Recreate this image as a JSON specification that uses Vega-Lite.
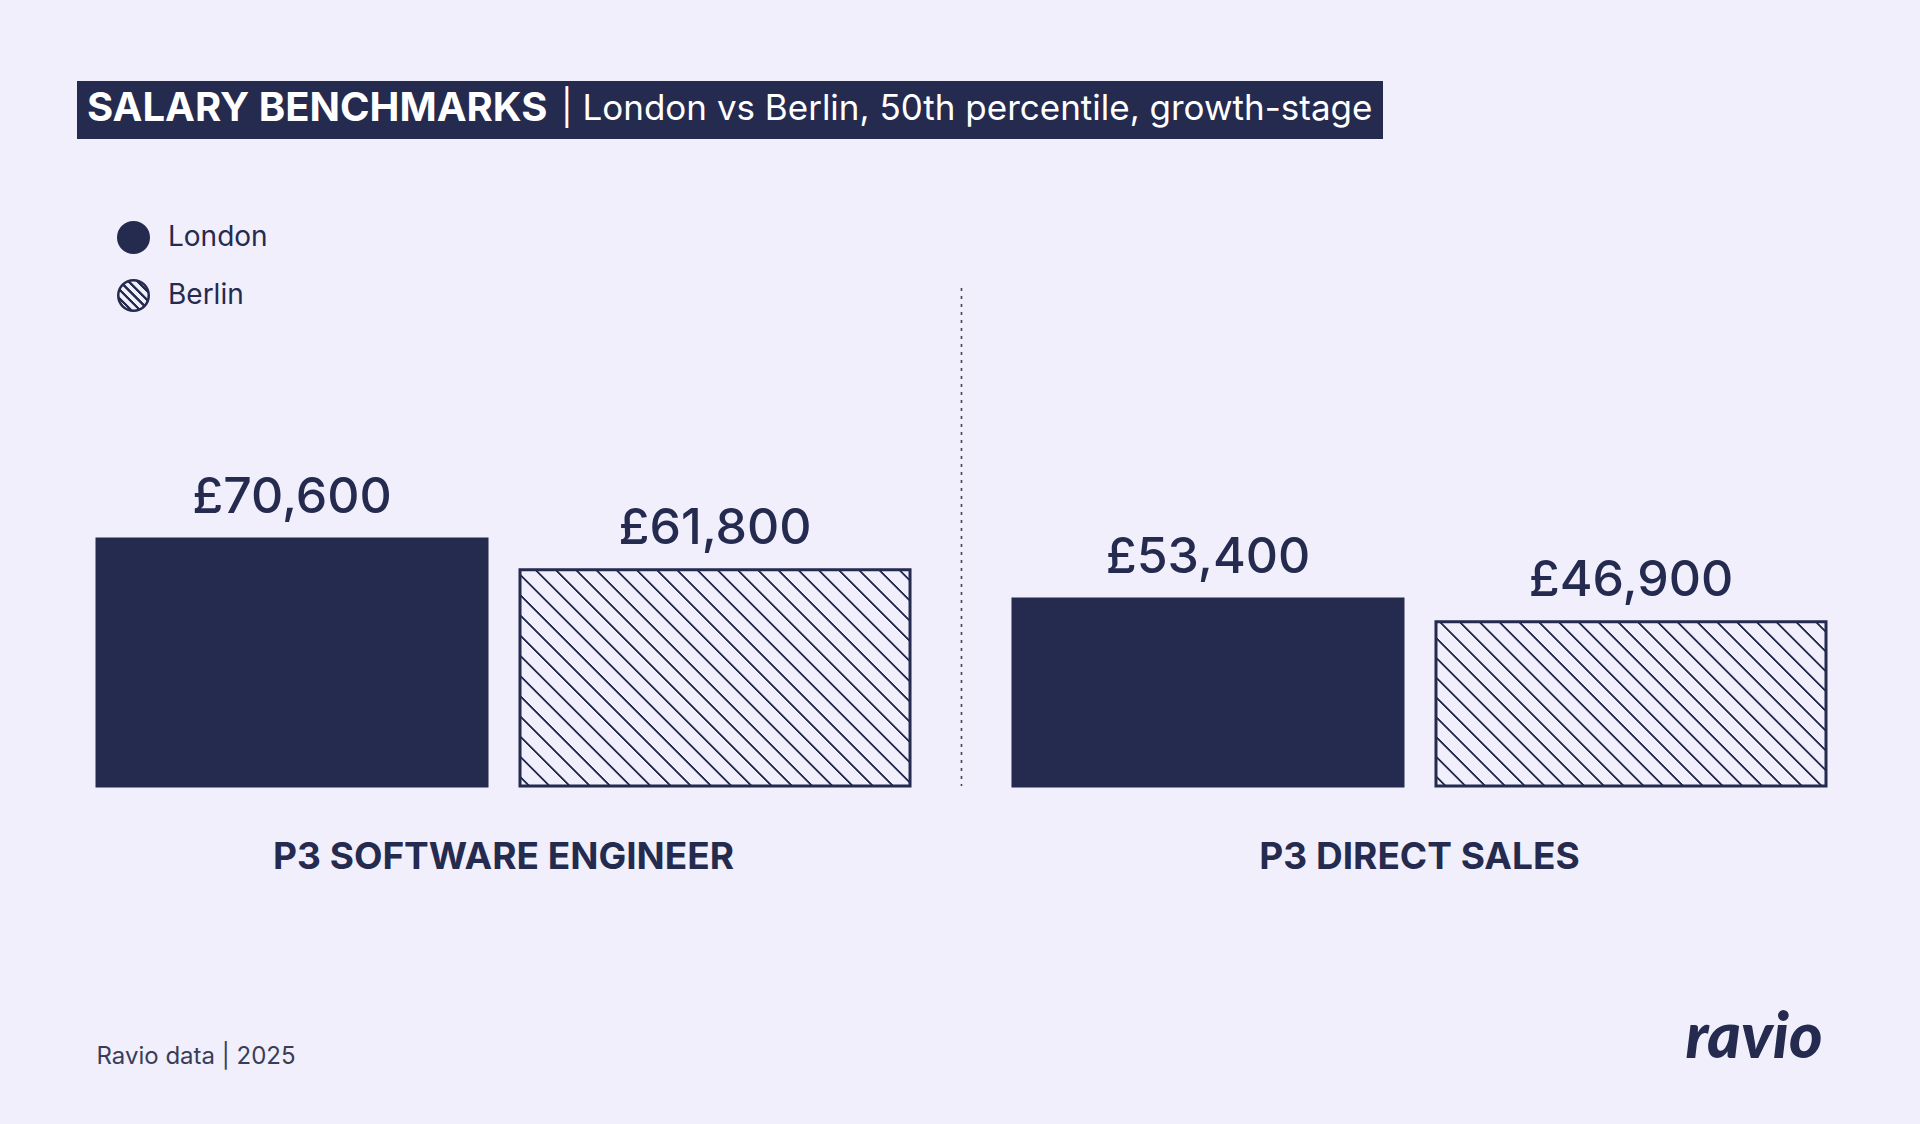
{
  "$schema": "https://vega.github.io/schema/vega-lite/v6.json",
  "autosize": {"type": "none"},
  "width": 1729,
  "height": 498,
  "padding": {"left": 97, "top": 288, "right": 94, "bottom": 338},
  "background": "#F0EFFB",
  "config": {
    "view": {"stroke": null},
    "font": "Inter",
    "locale": {"number": {"decimal": ".", "thousands": ",", "grouping": [3], "currency": ["£", ""]}}
  },
  "data": {
    "values": [
      {"role": "P3 SOFTWARE ENGINEER", "city": "London", "salary": 70600},
      {"role": "P3 SOFTWARE ENGINEER", "city": "Berlin", "salary": 61800},
      {"role": "P3 DIRECT SALES", "city": "London", "salary": 53400},
      {"role": "P3 DIRECT SALES", "city": "Berlin", "salary": 46900}
    ]
  },
  "layer": [
    {
      "encoding": {
        "x": {
          "field": "role", "type": "nominal",
          "scale": {"domain": ["P3 SOFTWARE ENGINEER", "P3 DIRECT SALES"], "paddingInner": 0.1124, "paddingOuter": 0},
          "axis": {
            "title": "ravio", "domain": false, "ticks": false, "tickSize": 0, "grid": false,
            "labelAngle": 0, "labelFont": "Inter", "labelFontSize": 37, "labelFontWeight": 700,
            "labelColor": "#252A4F", "labelPadding": 82, "labelBaseline": "alphabetic", "labelLimit": 1000,
            "titleX": 1725, "titleY": 271, "titleAlign": "right", "titleBaseline": "alphabetic",
            "titleFont": "Lato", "titleFontSize": 64, "titleFontWeight": 900, "titleFontStyle": "italic",
            "titleColor": "#252A4F"
          }
        },
        "xOffset": {
          "field": "city", "type": "nominal",
          "scale": {"domain": ["London", "Berlin"], "paddingInner": 0.078, "paddingOuter": 0}
        },
        "y": {
          "field": "salary", "type": "quantitative",
          "scale": {"domain": [0, 142300], "nice": false, "zero": true},
          "axis": {
            "title": "Ravio data | 2025", "labels": false, "ticks": false, "domain": false, "grid": false,
            "titleAngle": 0, "titleX": -1, "titleY": 775, "titleAlign": "left", "titleBaseline": "alphabetic",
            "titleFont": "Inter", "titleFontSize": 24, "titleFontWeight": 400, "titleColor": "#3A3D58"
          }
        }
      },
      "layer": [
        {
          "mark": {"type": "bar", "stroke": "#252A4F", "strokeWidth": 3},
          "encoding": {
            "fill": {
              "field": "city", "type": "nominal",
              "scale": {"domain": ["London", "Berlin"], "range": ["#252A4F",
                {"expr": "{gradient: 'linear', x1: 1, y1: 0, x2: 0, y2: 1, stops: [{offset: 0.03, color: '#F0EFFB'}, {offset: 0.04, color: '#252A4F'}, {offset: 0.085, color: '#252A4F'}, {offset: 0.095, color: '#F0EFFB'}, {offset: 0.1729, color: '#F0EFFB'}, {offset: 0.1829, color: '#252A4F'}, {offset: 0.2279, color: '#252A4F'}, {offset: 0.2379, color: '#F0EFFB'}, {offset: 0.3157, color: '#F0EFFB'}, {offset: 0.3257, color: '#252A4F'}, {offset: 0.3707, color: '#252A4F'}, {offset: 0.3807, color: '#F0EFFB'}, {offset: 0.4586, color: '#F0EFFB'}, {offset: 0.4686, color: '#252A4F'}, {offset: 0.5136, color: '#252A4F'}, {offset: 0.5236, color: '#F0EFFB'}, {offset: 0.6014, color: '#F0EFFB'}, {offset: 0.6114, color: '#252A4F'}, {offset: 0.6564, color: '#252A4F'}, {offset: 0.6664, color: '#F0EFFB'}, {offset: 0.7443, color: '#F0EFFB'}, {offset: 0.7543, color: '#252A4F'}, {offset: 0.7993, color: '#252A4F'}, {offset: 0.8093, color: '#F0EFFB'}, {offset: 0.8871, color: '#F0EFFB'}, {offset: 0.8971, color: '#252A4F'}, {offset: 0.9421, color: '#252A4F'}, {offset: 0.9521, color: '#F0EFFB'}]}"}
              ]},
              "condition": [
                {"test": "datum.city === 'Berlin' && datum.role === 'P3 SOFTWARE ENGINEER'",
                 "value": {"gradient": "linear", "x1": 1, "y1": 0, "x2": -0.1889, "y2": 0.6594, "stops": [
{"offset":0.0150,"color":"#F0EFFB"},{"offset":0.0166,"color":"#252A4F"},{"offset":0.0193,"color":"#252A4F"},{"offset":0.0209,"color":"#F0EFFB"},
{"offset":0.0483,"color":"#F0EFFB"},{"offset":0.0499,"color":"#252A4F"},{"offset":0.0526,"color":"#252A4F"},{"offset":0.0542,"color":"#F0EFFB"},
{"offset":0.0817,"color":"#F0EFFB"},{"offset":0.0833,"color":"#252A4F"},{"offset":0.0860,"color":"#252A4F"},{"offset":0.0876,"color":"#F0EFFB"},
{"offset":0.1150,"color":"#F0EFFB"},{"offset":0.1166,"color":"#252A4F"},{"offset":0.1193,"color":"#252A4F"},{"offset":0.1209,"color":"#F0EFFB"},
{"offset":0.1483,"color":"#F0EFFB"},{"offset":0.1499,"color":"#252A4F"},{"offset":0.1526,"color":"#252A4F"},{"offset":0.1542,"color":"#F0EFFB"},
{"offset":0.1817,"color":"#F0EFFB"},{"offset":0.1833,"color":"#252A4F"},{"offset":0.1860,"color":"#252A4F"},{"offset":0.1876,"color":"#F0EFFB"},
{"offset":0.2150,"color":"#F0EFFB"},{"offset":0.2166,"color":"#252A4F"},{"offset":0.2193,"color":"#252A4F"},{"offset":0.2209,"color":"#F0EFFB"},
{"offset":0.2483,"color":"#F0EFFB"},{"offset":0.2499,"color":"#252A4F"},{"offset":0.2526,"color":"#252A4F"},{"offset":0.2542,"color":"#F0EFFB"},
{"offset":0.2817,"color":"#F0EFFB"},{"offset":0.2833,"color":"#252A4F"},{"offset":0.2860,"color":"#252A4F"},{"offset":0.2876,"color":"#F0EFFB"},
{"offset":0.3150,"color":"#F0EFFB"},{"offset":0.3166,"color":"#252A4F"},{"offset":0.3193,"color":"#252A4F"},{"offset":0.3209,"color":"#F0EFFB"},
{"offset":0.3483,"color":"#F0EFFB"},{"offset":0.3499,"color":"#252A4F"},{"offset":0.3526,"color":"#252A4F"},{"offset":0.3542,"color":"#F0EFFB"},
{"offset":0.3817,"color":"#F0EFFB"},{"offset":0.3833,"color":"#252A4F"},{"offset":0.3860,"color":"#252A4F"},{"offset":0.3876,"color":"#F0EFFB"},
{"offset":0.4150,"color":"#F0EFFB"},{"offset":0.4166,"color":"#252A4F"},{"offset":0.4193,"color":"#252A4F"},{"offset":0.4209,"color":"#F0EFFB"},
{"offset":0.4483,"color":"#F0EFFB"},{"offset":0.4499,"color":"#252A4F"},{"offset":0.4526,"color":"#252A4F"},{"offset":0.4542,"color":"#F0EFFB"},
{"offset":0.4817,"color":"#F0EFFB"},{"offset":0.4833,"color":"#252A4F"},{"offset":0.4860,"color":"#252A4F"},{"offset":0.4876,"color":"#F0EFFB"},
{"offset":0.5150,"color":"#F0EFFB"},{"offset":0.5166,"color":"#252A4F"},{"offset":0.5193,"color":"#252A4F"},{"offset":0.5209,"color":"#F0EFFB"},
{"offset":0.5483,"color":"#F0EFFB"},{"offset":0.5499,"color":"#252A4F"},{"offset":0.5526,"color":"#252A4F"},{"offset":0.5542,"color":"#F0EFFB"},
{"offset":0.5817,"color":"#F0EFFB"},{"offset":0.5833,"color":"#252A4F"},{"offset":0.5860,"color":"#252A4F"},{"offset":0.5876,"color":"#F0EFFB"},
{"offset":0.6150,"color":"#F0EFFB"},{"offset":0.6166,"color":"#252A4F"},{"offset":0.6193,"color":"#252A4F"},{"offset":0.6209,"color":"#F0EFFB"},
{"offset":0.6483,"color":"#F0EFFB"},{"offset":0.6499,"color":"#252A4F"},{"offset":0.6526,"color":"#252A4F"},{"offset":0.6542,"color":"#F0EFFB"},
{"offset":0.6817,"color":"#F0EFFB"},{"offset":0.6833,"color":"#252A4F"},{"offset":0.6860,"color":"#252A4F"},{"offset":0.6876,"color":"#F0EFFB"},
{"offset":0.7150,"color":"#F0EFFB"},{"offset":0.7166,"color":"#252A4F"},{"offset":0.7193,"color":"#252A4F"},{"offset":0.7209,"color":"#F0EFFB"},
{"offset":0.7483,"color":"#F0EFFB"},{"offset":0.7499,"color":"#252A4F"},{"offset":0.7526,"color":"#252A4F"},{"offset":0.7542,"color":"#F0EFFB"},
{"offset":0.7817,"color":"#F0EFFB"},{"offset":0.7833,"color":"#252A4F"},{"offset":0.7860,"color":"#252A4F"},{"offset":0.7876,"color":"#F0EFFB"},
{"offset":0.8150,"color":"#F0EFFB"},{"offset":0.8166,"color":"#252A4F"},{"offset":0.8193,"color":"#252A4F"},{"offset":0.8209,"color":"#F0EFFB"},
{"offset":0.8483,"color":"#F0EFFB"},{"offset":0.8499,"color":"#252A4F"},{"offset":0.8526,"color":"#252A4F"},{"offset":0.8542,"color":"#F0EFFB"},
{"offset":0.8817,"color":"#F0EFFB"},{"offset":0.8833,"color":"#252A4F"},{"offset":0.8860,"color":"#252A4F"},{"offset":0.8876,"color":"#F0EFFB"},
{"offset":0.9150,"color":"#F0EFFB"},{"offset":0.9166,"color":"#252A4F"},{"offset":0.9193,"color":"#252A4F"},{"offset":0.9209,"color":"#F0EFFB"},
{"offset":0.9483,"color":"#F0EFFB"},{"offset":0.9499,"color":"#252A4F"},{"offset":0.9526,"color":"#252A4F"},{"offset":0.9542,"color":"#F0EFFB"},
{"offset":0.9817,"color":"#F0EFFB"},{"offset":0.9833,"color":"#252A4F"},{"offset":0.9860,"color":"#252A4F"},{"offset":0.9876,"color":"#F0EFFB"}
                 ]}},
                {"test": "datum.city === 'Berlin' && datum.role === 'P3 DIRECT SALES'",
                 "value": {"gradient": "linear", "x1": 1, "y1": 0, "x2": -0.2071, "y2": 0.5080, "stops": [
{"offset":0.0150,"color":"#F0EFFB"},{"offset":0.0168,"color":"#252A4F"},{"offset":0.0197,"color":"#252A4F"},{"offset":0.0215,"color":"#F0EFFB"},
{"offset":0.0507,"color":"#F0EFFB"},{"offset":0.0525,"color":"#252A4F"},{"offset":0.0554,"color":"#252A4F"},{"offset":0.0572,"color":"#F0EFFB"},
{"offset":0.0864,"color":"#F0EFFB"},{"offset":0.0882,"color":"#252A4F"},{"offset":0.0911,"color":"#252A4F"},{"offset":0.0929,"color":"#F0EFFB"},
{"offset":0.1221,"color":"#F0EFFB"},{"offset":0.1239,"color":"#252A4F"},{"offset":0.1268,"color":"#252A4F"},{"offset":0.1286,"color":"#F0EFFB"},
{"offset":0.1579,"color":"#F0EFFB"},{"offset":0.1597,"color":"#252A4F"},{"offset":0.1626,"color":"#252A4F"},{"offset":0.1644,"color":"#F0EFFB"},
{"offset":0.1936,"color":"#F0EFFB"},{"offset":0.1954,"color":"#252A4F"},{"offset":0.1983,"color":"#252A4F"},{"offset":0.2001,"color":"#F0EFFB"},
{"offset":0.2293,"color":"#F0EFFB"},{"offset":0.2311,"color":"#252A4F"},{"offset":0.2340,"color":"#252A4F"},{"offset":0.2358,"color":"#F0EFFB"},
{"offset":0.2650,"color":"#F0EFFB"},{"offset":0.2668,"color":"#252A4F"},{"offset":0.2697,"color":"#252A4F"},{"offset":0.2715,"color":"#F0EFFB"},
{"offset":0.3007,"color":"#F0EFFB"},{"offset":0.3025,"color":"#252A4F"},{"offset":0.3054,"color":"#252A4F"},{"offset":0.3072,"color":"#F0EFFB"},
{"offset":0.3364,"color":"#F0EFFB"},{"offset":0.3382,"color":"#252A4F"},{"offset":0.3411,"color":"#252A4F"},{"offset":0.3429,"color":"#F0EFFB"},
{"offset":0.3721,"color":"#F0EFFB"},{"offset":0.3739,"color":"#252A4F"},{"offset":0.3768,"color":"#252A4F"},{"offset":0.3786,"color":"#F0EFFB"},
{"offset":0.4079,"color":"#F0EFFB"},{"offset":0.4097,"color":"#252A4F"},{"offset":0.4126,"color":"#252A4F"},{"offset":0.4144,"color":"#F0EFFB"},
{"offset":0.4436,"color":"#F0EFFB"},{"offset":0.4454,"color":"#252A4F"},{"offset":0.4483,"color":"#252A4F"},{"offset":0.4501,"color":"#F0EFFB"},
{"offset":0.4793,"color":"#F0EFFB"},{"offset":0.4811,"color":"#252A4F"},{"offset":0.4840,"color":"#252A4F"},{"offset":0.4858,"color":"#F0EFFB"},
{"offset":0.5150,"color":"#F0EFFB"},{"offset":0.5168,"color":"#252A4F"},{"offset":0.5197,"color":"#252A4F"},{"offset":0.5215,"color":"#F0EFFB"},
{"offset":0.5507,"color":"#F0EFFB"},{"offset":0.5525,"color":"#252A4F"},{"offset":0.5554,"color":"#252A4F"},{"offset":0.5572,"color":"#F0EFFB"},
{"offset":0.5864,"color":"#F0EFFB"},{"offset":0.5882,"color":"#252A4F"},{"offset":0.5911,"color":"#252A4F"},{"offset":0.5929,"color":"#F0EFFB"},
{"offset":0.6221,"color":"#F0EFFB"},{"offset":0.6239,"color":"#252A4F"},{"offset":0.6268,"color":"#252A4F"},{"offset":0.6286,"color":"#F0EFFB"},
{"offset":0.6579,"color":"#F0EFFB"},{"offset":0.6597,"color":"#252A4F"},{"offset":0.6626,"color":"#252A4F"},{"offset":0.6644,"color":"#F0EFFB"},
{"offset":0.6936,"color":"#F0EFFB"},{"offset":0.6954,"color":"#252A4F"},{"offset":0.6983,"color":"#252A4F"},{"offset":0.7001,"color":"#F0EFFB"},
{"offset":0.7293,"color":"#F0EFFB"},{"offset":0.7311,"color":"#252A4F"},{"offset":0.7340,"color":"#252A4F"},{"offset":0.7358,"color":"#F0EFFB"},
{"offset":0.7650,"color":"#F0EFFB"},{"offset":0.7668,"color":"#252A4F"},{"offset":0.7697,"color":"#252A4F"},{"offset":0.7715,"color":"#F0EFFB"},
{"offset":0.8007,"color":"#F0EFFB"},{"offset":0.8025,"color":"#252A4F"},{"offset":0.8054,"color":"#252A4F"},{"offset":0.8072,"color":"#F0EFFB"},
{"offset":0.8364,"color":"#F0EFFB"},{"offset":0.8382,"color":"#252A4F"},{"offset":0.8411,"color":"#252A4F"},{"offset":0.8429,"color":"#F0EFFB"},
{"offset":0.8721,"color":"#F0EFFB"},{"offset":0.8739,"color":"#252A4F"},{"offset":0.8768,"color":"#252A4F"},{"offset":0.8786,"color":"#F0EFFB"},
{"offset":0.9079,"color":"#F0EFFB"},{"offset":0.9097,"color":"#252A4F"},{"offset":0.9126,"color":"#252A4F"},{"offset":0.9144,"color":"#F0EFFB"},
{"offset":0.9436,"color":"#F0EFFB"},{"offset":0.9454,"color":"#252A4F"},{"offset":0.9483,"color":"#252A4F"},{"offset":0.9501,"color":"#F0EFFB"},
{"offset":0.9793,"color":"#F0EFFB"},{"offset":0.9811,"color":"#252A4F"},{"offset":0.9840,"color":"#252A4F"},{"offset":0.9858,"color":"#F0EFFB"}
                 ]}}
              ],
              "legend": {
                "title": null, "orient": "none", "legendX": 20, "legendY": -67, "padding": 0,
                "direction": "vertical", "symbolType": "circle", "symbolSize": 930,
                "symbolStrokeWidth": 2.5, "symbolStrokeColor": "#252A4F",
                "labelFont": "Inter", "labelFontSize": 28, "labelColor": "#252A4F", "labelOffset": 18,
                "rowPadding": 17
              }
            }
          }
        },
        {
          "mark": {"type": "text", "baseline": "alphabetic", "dy": -26, "font": "Inter", "fontSize": 50, "fontWeight": 500, "color": "#252A4F"},
          "encoding": {
            "text": {"field": "salary", "type": "quantitative", "format": "$,.0f"}
          }
        }
      ]
    },
    {
      "data": {"values": [{"role": "P3 SOFTWARE ENGINEER", "comparison": "London vs Berlin, 50th percentile, growth-stage"}]},
      "mark": {"type": "rule", "color": "#3D4163", "strokeWidth": 1.6},
      "encoding": {
        "x": {
          "field": "role", "type": "nominal", "bandPosition": 1.0633,
          "scale": {"domain": ["P3 SOFTWARE ENGINEER", "P3 DIRECT SALES"], "paddingInner": 0.1124, "paddingOuter": 0},
          "axis": {
            "title": "ravio", "domain": false, "ticks": false, "tickSize": 0, "grid": false,
            "labelAngle": 0, "labelFont": "Inter", "labelFontSize": 37, "labelFontWeight": 700,
            "labelColor": "#252A4F", "labelPadding": 82, "labelBaseline": "alphabetic", "labelLimit": 1000,
            "titleX": 1725, "titleY": 271, "titleAlign": "right", "titleBaseline": "alphabetic",
            "titleFont": "Lato", "titleFontSize": 64, "titleFontWeight": 900, "titleFontStyle": "italic",
            "titleColor": "#252A4F"
          }
        },
        "strokeDash": {
          "field": "comparison", "type": "nominal",
          "scale": {"range": [[3, 5]]},
          "legend": {
            "title": "SALARY BENCHMARKS", "orient": "none", "legendX": -20, "legendY": -207,
            "titleOrient": "left", "titleFont": "Inter", "titleFontSize": 40, "titleFontWeight": 700,
            "titleColor": "#FFFFFF", "titlePadding": -22, "titleLimit": 1000,
            "labelFont": "Inter", "labelFontSize": 35, "labelFontWeight": 400, "labelColor": "#FFFFFF",
            "labelLimit": 1500, "labelExpr": "'| ' + datum.label", "labelOffset": 0,
            "symbolOpacity": 0, "symbolSize": 0, "symbolStrokeWidth": 0,
            "padding": 10, "fillColor": "#252A4F", "cornerRadius": 0
          }
        }
      }
    }
  ]
}
